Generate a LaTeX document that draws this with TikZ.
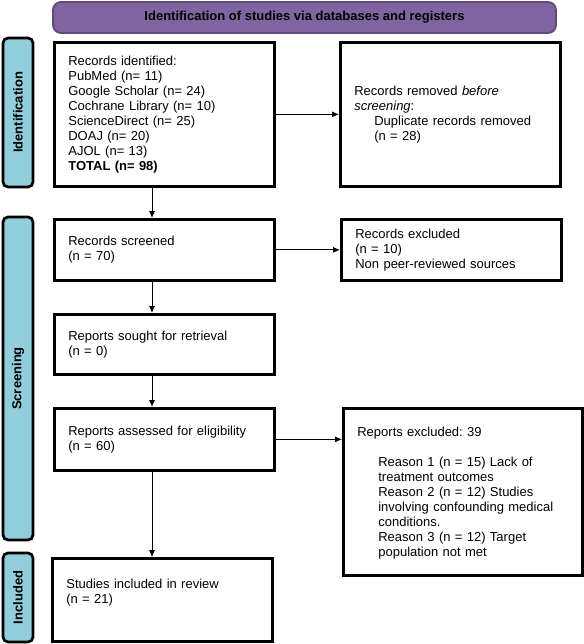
\documentclass[tikz,border=0pt]{standalone}
\usepackage{fontspec}
\setmainfont{Liberation Sans}
\usetikzlibrary{arrows.meta}

\definecolor{headpurple}{HTML}{8064A2}
\definecolor{headedge}{HTML}{5E4A7B}
\definecolor{phaseblue}{HTML}{92CDDC}

\frenchspacing

\begin{document}
\begin{tikzpicture}[
    x=1pt, y=-1pt,
    every node/.style={font=\fontsize{13}{15}\selectfont},
    record/.style={rectangle, draw, line width=2.7pt, anchor=north west, align=left,
        inner xsep=14pt, inner ysep=0pt, text width=#1},
    phase/.style={rectangle, rounded corners=5pt, draw, line width=2.7pt, fill=phaseblue,
        rotate=90, minimum height=30pt, inner sep=0pt, font=\fontsize{13}{15}\selectfont\bfseries},
    flow/.style={-{Latex[length=7pt, width=6pt]}, line width=0.9pt}
]
\useasboundingbox (0,0) rectangle (583,644);

% Header
\node[rectangle, rounded corners=8pt, draw=headedge, line width=1.8pt, fill=headpurple,
      minimum width=503pt, minimum height=31pt, font=\fontsize{13}{15}\selectfont\bfseries]
      (header) at (304.5,17.5) {Identification of studies via databases and registers};

% Phases
\node[phase, minimum width=149pt] (pident) at (18,112.5) {Identification};
\node[phase, minimum width=323pt] (pscreen) at (18,378.5) {Screening};
\node[phase, minimum width=89pt] (pincl) at (18,597.5) {Included};

% Identification
\node[record=192pt, minimum height=144pt] (ident) at (53,41) {Records identified:\\
    PubMed (n= 11)\\
    Google Scholar (n= 24)\\
    Cochrane Library (n= 10)\\
    ScienceDirect (n= 25)\\
    DOAJ (n= 20)\\
    AJOL (n= 13)\\
    \textbf{TOTAL (n= 98)}};
\node[record=192pt, minimum height=144pt] (removed) at (339,41) {Records removed \textit{before}\\
    \textit{screening}:\\
    \hspace*{20pt}Duplicate records removed\\
    \hspace*{20pt}(n = 28)};

% Screening
\node[record=192pt, minimum height=61pt] (screened) at (53,218) {Records screened\\(n = 70)};
\node[record=192pt, minimum height=61pt] (excluded) at (340,218) {Records excluded\\(n = 10)\\Non peer-reviewed sources};
\node[record=192pt, minimum height=60pt] (sought) at (53,313) {Reports sought for retrieval\\(n = 0)};
\node[record=192pt, minimum height=62pt] (assessed) at (53,407) {Reports assessed for eligibility\\(n = 60)};
\node[record=211pt, minimum height=167pt] (reasons) at (342,407) {\mbox{}\\[-3pt]
    Reports excluded: 39\\[15pt]
    \hspace*{21pt}Reason 1 (n = 15) Lack of\\
    \hspace*{21pt}treatment outcomes\\
    \hspace*{21pt}Reason 2 (n = 12) Studies\\
    \hspace*{21pt}involving confounding medical\\
    \hspace*{21pt}conditions.\\
    \hspace*{21pt}Reason 3 (n = 12) Target\\
    \hspace*{21pt}population not met};

% Included
\node[record=192pt, minimum height=83pt] (included) at (51,557) {Studies included in review\\(n = 21)\\[2pt]\mbox{}};

% Arrows
\coordinate (spine) at (152,0);
\draw[flow] (ident.south -| spine) -- (screened.north -| spine);
\draw[flow] (screened.south -| spine) -- (sought.north -| spine);
\draw[flow] (sought.south -| spine) -- (assessed.north -| spine);
\draw[flow] (assessed.south -| spine) -- (included.north -| spine);

\draw[flow] (ident.east) -- (ident.east -| removed.west);
\draw[flow] (screened.east) -- (excluded.west);
\draw[flow] (assessed.east) -- (assessed.east -| reasons.west);

\end{tikzpicture}
\end{document}
